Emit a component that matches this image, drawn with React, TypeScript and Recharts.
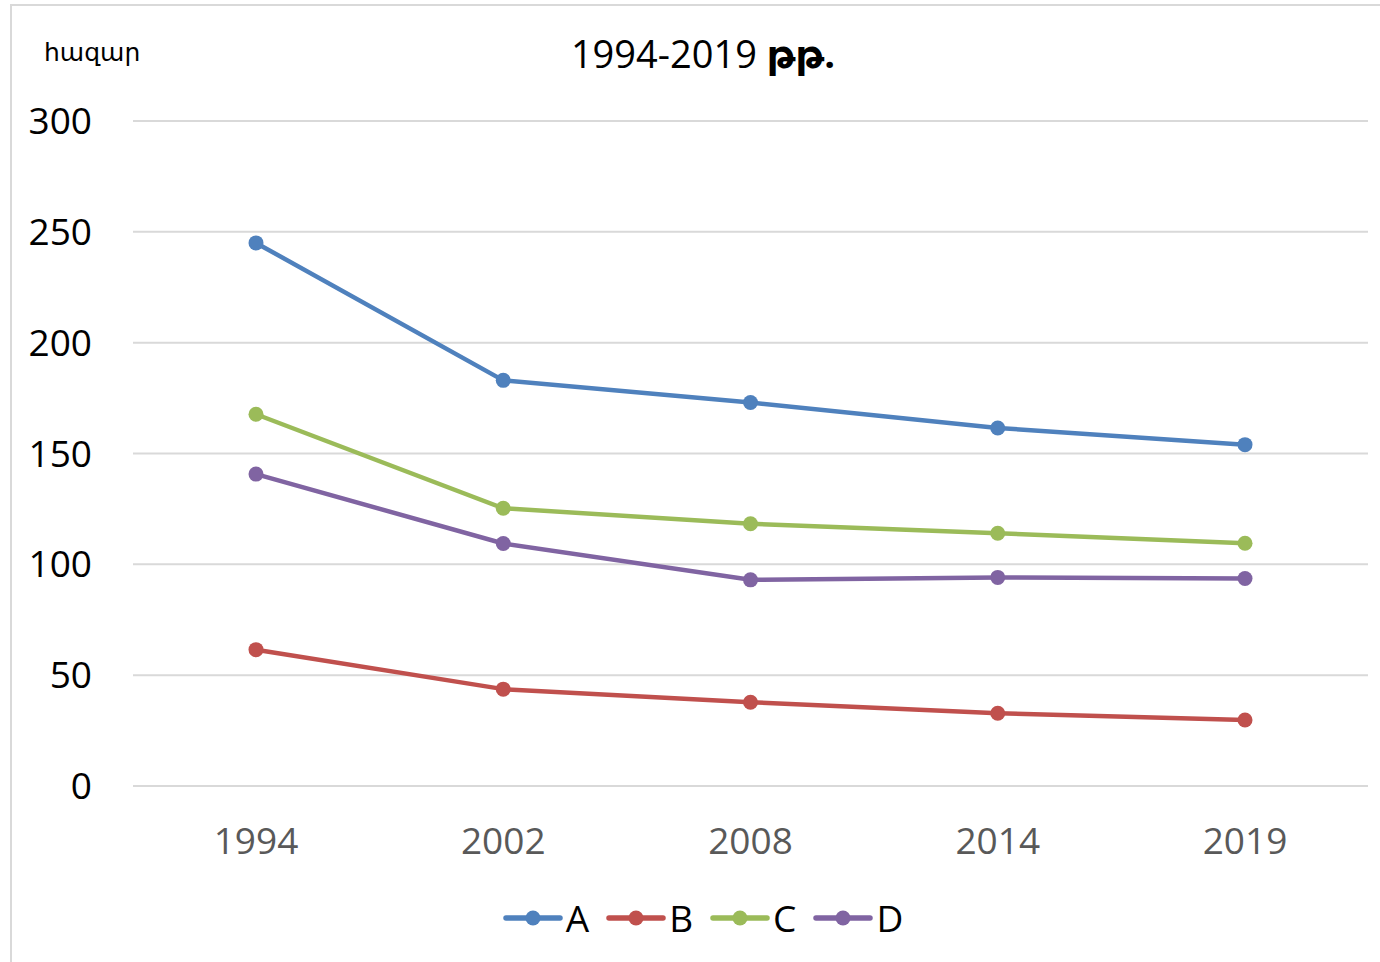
import React from 'react';
import { LineChart, Line, XAxis, YAxis, CartesianGrid, Legend } from 'recharts';

const years = ['1994', '2002', '2008', '2014', '2019'];
const seriesA = [245, 183, 173, 161.5, 154];
const seriesB = [61.5, 43.7, 37.8, 32.8, 29.8];
const seriesC = [167.7, 125.3, 118.3, 114, 109.5];
const seriesD = [140.7, 109.4, 93, 94.1, 93.6];
const yTicks = [0, 50, 100, 150, 200, 250, 300];

const seriesNames = ['A', 'B', 'C', 'D'];
const seriesColors = ['#4f81bd', '#c0504d', '#9bbb59', '#8064a2'];
const seriesValues = [seriesA, seriesB, seriesC, seriesD];

const data = years.map((y, i) => {
  const row: Record<string, string | number> = { year: y };
  seriesNames.forEach((n, k) => {
    row[n] = seriesValues[k][i];
  });
  return row;
});

const FONT = '"Open Sans", "DejaVu Sans", sans-serif';

const LegendContent = () => (
  <div style={{ display: 'flex', justifyContent: 'center', alignItems: 'center', height: 55, paddingLeft: 26, fontFamily: FONT, fontSize: 37, color: '#000' }}>
    {seriesNames.map((n, k) => (
      <div key={n} style={{ display: 'flex', alignItems: 'center', marginRight: k < 3 ? 17 : 0 }}>
        <svg width={60} height={20} style={{ marginRight: 3 }}>
          <line x1={3} y1={10} x2={57} y2={10} stroke={seriesColors[k]} strokeWidth={5.5} strokeLinecap="round" />
          <circle cx={30} cy={10} r={7.5} fill={seriesColors[k]} />
        </svg>
        <span>{n}</span>
      </div>
    ))}
  </div>
);

export default function App() {
  return (
    <div style={{ position: 'fixed', left: 0, top: 0, width: 1380, height: 962, overflow: 'hidden', background: '#fff' }}>
      <div style={{ position: 'absolute', left: 10, top: 4, width: 1400, height: 1000, border: '2px solid #d9d9d9', boxSizing: 'border-box' }} />
      <div style={{ position: 'absolute', left: 0, top: 0 }}>
        <LineChart width={1380} height={962} data={data} margin={{ top: 121, right: 12, bottom: 41, left: 0 }}>
          <CartesianGrid vertical={false} stroke="#d9d9d9" strokeWidth={2} />
          <XAxis
            dataKey="year"
            axisLine={false}
            tickLine={false}
            tickSize={0}
            tickMargin={42}
            height={80}
            padding={{ left: 123, right: 123 }}
            tick={{ fill: '#595959', fontSize: 37, fontFamily: FONT }}
            interval={0}
          />
          <YAxis
            domain={[0, 300]}
            ticks={yTicks}
            axisLine={false}
            tickLine={false}
            tickSize={0}
            tickMargin={41}
            width={133}
            tick={{ fill: '#000', fontSize: 37, fontFamily: FONT }}
          />
          <Legend
            content={<LegendContent />}
            wrapperStyle={{ top: 890, left: 0, width: 1380, height: 55 }}
          />
          {seriesNames.map((n, k) => (
            <Line
              key={n}
              type="linear"
              dataKey={n}
              stroke={seriesColors[k]}
              strokeWidth={4.5}
              dot={{ r: 7.5, fill: seriesColors[k], stroke: 'none', strokeWidth: 0 }}
              activeDot={false}
              isAnimationActive={false}
            />
          ))}
        </LineChart>
      </div>
      <div style={{ position: 'absolute', left: 44, top: 34, fontFamily: FONT, fontSize: 25, color: '#000', whiteSpace: 'nowrap' }}>հազար</div>
      <div style={{ position: 'absolute', left: 0, width: 1406, top: 28, textAlign: 'center', fontFamily: FONT, fontSize: 38, color: '#000', whiteSpace: 'nowrap', lineHeight: '50px' }}>
        1994-2019 <b>թթ.</b>
      </div>
    </div>
  );
}
